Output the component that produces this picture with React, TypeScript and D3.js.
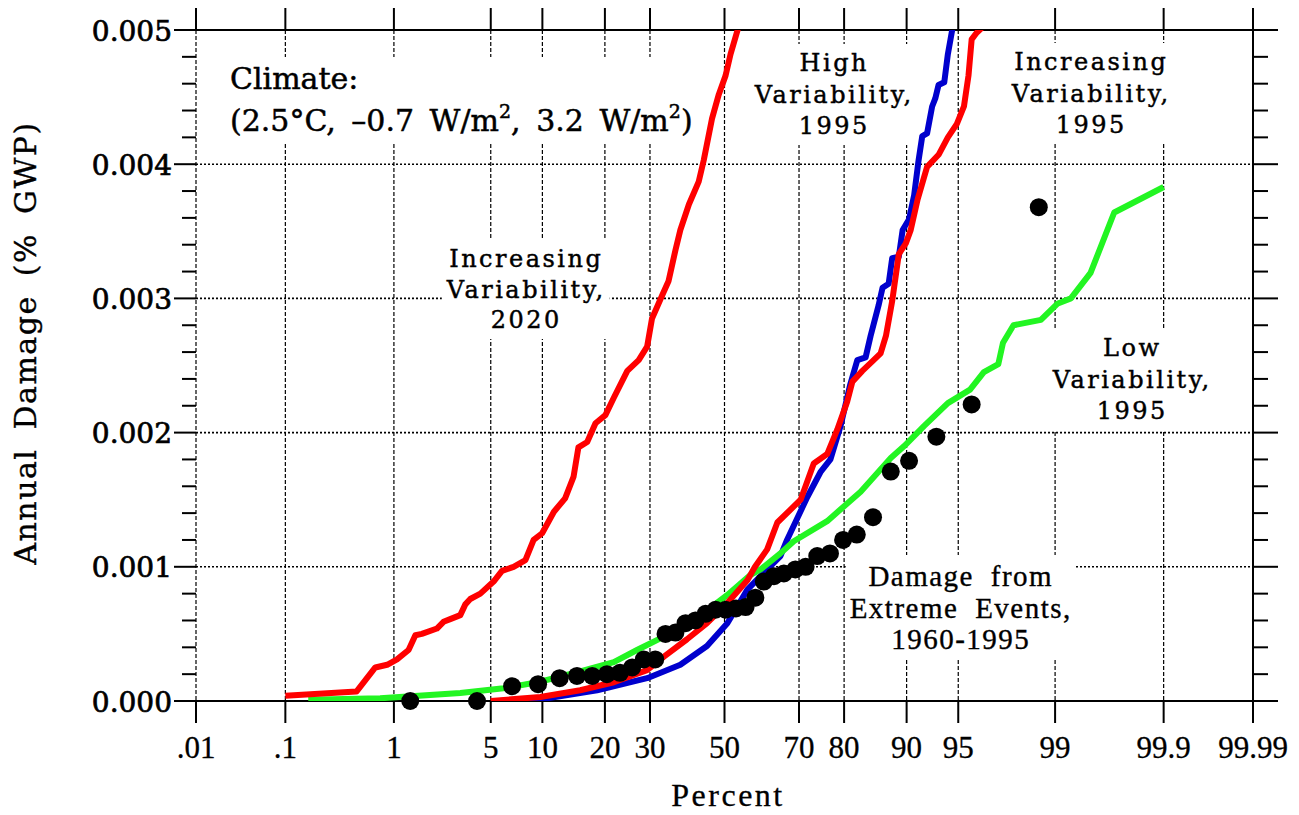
import React, { useEffect, useRef } from "react";
import * as d3 from "d3";

// ---------- data ----------
const xTickPct = [0.01, 0.1, 1, 5, 10, 20, 30, 50, 70, 80, 90, 95, 99, 99.9, 99.99];
const xTickLabels = [".01", ".1", "1", "5", "10", "20", "30", "50", "70", "80", "90", "95", "99", "99.9", "99.99"];
const yTicks = [0, 0.001, 0.002, 0.003, 0.004, 0.005];
const yTickLabels = ["0.000", "0.001", "0.002", "0.003", "0.004", "0.005"];
const yMinorTicks = [0.0002, 0.0004, 0.0006, 0.0008, 0.0012, 0.0014, 0.0016, 0.0018, 0.0022, 0.0024, 0.0026, 0.0028, 0.0032, 0.0034, 0.0036, 0.0038, 0.0042, 0.0044, 0.0046, 0.0048];

// Increasing variability, 2020 (red, left)
const red2020Pct = [0.1, 0.48, 0.70, 0.88, 1.06, 1.31, 1.48, 1.66, 2.15, 2.40, 2.68, 3.15, 3.41, 3.68, 4.29, 5.21, 5.87, 6.89, 8.06, 8.96, 9.97, 11.5, 13.1, 14.4, 15.2, 16.7, 18.2, 20.1, 21.8, 24.7, 27.3, 29.3, 30.5, 33.0, 34.7, 36.5, 37.8, 40.1, 42.8, 44.2, 46.5, 48.4, 50.3, 51.7, 54.0];
const red2020Val = [0.00004, 0.00007, 0.00025, 0.00027, 0.00031, 0.00038, 0.00049, 0.0005, 0.00054, 0.00059, 0.00061, 0.00064, 0.00072, 0.00076, 0.0008, 0.00089, 0.00097, 0.001, 0.00105, 0.0012, 0.00125, 0.00141, 0.00151, 0.00167, 0.00189, 0.00193, 0.00207, 0.00213, 0.00226, 0.00246, 0.00254, 0.00264, 0.00285, 0.00302, 0.00313, 0.00336, 0.00351, 0.0037, 0.00387, 0.00403, 0.00434, 0.00452, 0.00466, 0.00482, 0.00503];

// High variability, 1995 (blue)
const bluePct = [5.7, 10.6, 18.5, 29.3, 37.8, 45.1, 50.8, 56.4, 60.0, 65.3, 67.0, 72.0, 75.1, 77.2, 79.3, 81.2, 82.5, 83.96, 84.8, 86.1, 86.7, 87.6, 88.1, 89.0, 89.5, 90.3, 90.9, 91.4, 91.8, 92.3, 92.8, 93.1, 93.4, 93.9, 94.2, 94.6];
const blueVal = [0, 0.00002, 0.00008, 0.00017, 0.00027, 0.00041, 0.00058, 0.00083, 0.00093, 0.00108, 0.0012, 0.00152, 0.00171, 0.0018, 0.00205, 0.00236, 0.00254, 0.00256, 0.00272, 0.00295, 0.00308, 0.00311, 0.0033, 0.00331, 0.00351, 0.00359, 0.00377, 0.00403, 0.00421, 0.00423, 0.00443, 0.00449, 0.00459, 0.00461, 0.00482, 0.00503];

// Increasing variability, 1995 (red, right)
const red1995Pct = [5.0, 9.75, 15.5, 21.8, 29.3, 33.5, 39.6, 45.1, 50.8, 56.4, 58.5, 61.8, 64.5, 70.4, 73.5, 76.5, 78.6, 80.6, 81.6, 83.4, 85.3, 86.4, 87.2, 88.1, 89.0, 89.9, 90.5, 91.3, 92.3, 93.4, 94.2, 94.9, 95.4, 95.7, 95.9, 96.2, 96.6];
const red1995Val = [0, 0.00003, 0.00008, 0.00014, 0.00023, 0.00033, 0.00046, 0.00058, 0.00073, 0.0009, 0.001, 0.00113, 0.00133, 0.0015, 0.00177, 0.00184, 0.00202, 0.00223, 0.00238, 0.00246, 0.00254, 0.00259, 0.00272, 0.00298, 0.00333, 0.00341, 0.00351, 0.00374, 0.00398, 0.00407, 0.0042, 0.0043, 0.00443, 0.00466, 0.00493, 0.00498, 0.00503];

// Low variability, 1995 (green)
const greenPct = [0.17, 0.77, 3.15, 6.0, 9.75, 15.5, 21.8, 26.9, 33.5, 42.4, 50.8, 57.3, 60.0, 65.3, 68.7, 76.5, 83.1, 87.9, 89.7, 92.0, 94.2, 95.8, 96.6, 97.3, 97.5, 97.9, 98.7, 99.04, 99.26, 99.5, 99.695, 99.9];
const greenVal = [0.00001, 0.00002, 0.00006, 0.000095, 0.000144, 0.00022, 0.00029, 0.00038, 0.00048, 0.00062, 0.00079, 0.00094, 0.00098, 0.0011, 0.00119, 0.00134, 0.00156, 0.00181, 0.0019, 0.00205, 0.00222, 0.00232, 0.00245, 0.00251, 0.00267, 0.0028, 0.00284, 0.00296, 0.003, 0.00319, 0.00364, 0.00383];

// Damage from extreme events, 1960-1995 (black dots)
const dotPct = [1.35, 4.08, 6.75, 9.48, 12.3, 14.96, 17.6, 20.4, 23.1, 25.8, 28.5, 31.3, 33.9, 36.5, 39.2, 41.9, 44.7, 47.5, 50.3, 53.2, 55.9, 58.6, 60.9, 63.6, 66.2, 69.1, 71.6, 74.3, 77.1, 79.8, 82.4, 85.2, 87.9, 90.3, 93.2, 95.9, 98.65];
const dotVal = [0, 0, 0.00011, 0.000125, 0.00017, 0.000187, 0.000187, 0.0002, 0.00021, 0.00025, 0.00031, 0.00031, 0.0005, 0.00051, 0.00058, 0.0006, 0.00065, 0.00068, 0.00068, 0.00069, 0.0007, 0.00077, 0.00089, 0.00093, 0.00095, 0.00098, 0.001, 0.00108, 0.0011, 0.0012, 0.00124, 0.00137, 0.00171, 0.00179, 0.00197, 0.00221, 0.00368];

// ---------- helpers ----------
function probit(p: number): number {
  const a = [-3.969683028665376e1, 2.209460984245205e2, -2.759285104469687e2, 1.38357751867269e2, -3.066479806614716e1, 2.506628277459239];
  const b = [-5.447609879822406e1, 1.615858368580409e2, -1.556989798598866e2, 6.680131188771972e1, -1.328068155288572e1];
  const c = [-7.784894002430293e-3, -3.223964580411365e-1, -2.400758277161838, -2.549732539343734, 4.374664141464968, 2.938163982698783];
  const d = [7.784695709041462e-3, 3.224671290700398e-1, 2.445134137142996, 3.754408661907416];
  const pl = 0.02425;
  let q: number, r: number;
  if (p < pl) {
    q = Math.sqrt(-2 * Math.log(p));
    return (((((c[0] * q + c[1]) * q + c[2]) * q + c[3]) * q + c[4]) * q + c[5]) / ((((d[0] * q + d[1]) * q + d[2]) * q + d[3]) * q + 1);
  }
  if (p <= 1 - pl) {
    q = p - 0.5;
    r = q * q;
    return ((((((a[0] * r + a[1]) * r + a[2]) * r + a[3]) * r + a[4]) * r + a[5]) * q) / (((((b[0] * r + b[1]) * r + b[2]) * r + b[3]) * r + b[4]) * r + 1);
  }
  q = Math.sqrt(-2 * Math.log(1 - p));
  return -(((((c[0] * q + c[1]) * q + c[2]) * q + c[3]) * q + c[4]) * q + c[5]) / ((((d[0] * q + d[1]) * q + d[2]) * q + d[3]) * q + 1);
}

const FONT_A = "'DejaVu Serif', serif";
const FONT_B = "'Liberation Serif', 'Times New Roman', serif";

export default function App() {
  const ref = useRef<SVGSVGElement>(null);

  useEffect(() => {
    const svg = d3.select(ref.current);
    svg.selectAll("*").remove();

    const L = 196, R = 1253, T = 30, B = 701;
    const zx = d3.scaleLinear().domain([probit(0.0001), probit(0.9999)]).range([L, R]);
    const xp = (pct: number) => zx(probit(pct / 100));
    const y = d3.scaleLinear().domain([0, 0.005]).range([B, T]);

    svg.append("defs").append("clipPath").attr("id", "plotclip")
      .append("rect").attr("x", L).attr("y", T).attr("width", R - L).attr("height", B - T);

    // grid lines
    const grid = svg.append("g");
    grid.selectAll("line.vg").data(xTickPct.slice(0, -1)).enter().append("line")
      .attr("x1", (d) => xp(d)).attr("x2", (d) => xp(d)).attr("y1", T).attr("y2", B)
      .attr("stroke", "#000").attr("stroke-width", 1.2).attr("stroke-dasharray", "4,2");
    grid.selectAll("line.hg").data(yTicks.slice(1, -1)).enter().append("line")
      .attr("x1", L).attr("x2", R).attr("y1", (d) => y(d)).attr("y2", (d) => y(d))
      .attr("stroke", "#000").attr("stroke-width", 1.6).attr("stroke-dasharray", "2,2");

    // frame
    const frame = svg.append("g").attr("stroke", "#000").attr("stroke-width", 2);
    frame.append("line").attr("x1", 174).attr("x2", 1278).attr("y1", T).attr("y2", T);
    frame.append("line").attr("x1", 174).attr("x2", 1278).attr("y1", B).attr("y2", B);
    frame.append("line").attr("x1", R).attr("x2", R).attr("y1", 8).attr("y2", 723);
    frame.selectAll("line.tt").data(xTickPct).enter().append("line")
      .attr("x1", (d) => xp(d)).attr("x2", (d) => xp(d)).attr("y1", 8).attr("y2", T);
    frame.selectAll("line.bt").data(xTickPct).enter().append("line")
      .attr("x1", (d) => xp(d)).attr("x2", (d) => xp(d)).attr("y1", B).attr("y2", 723);
    frame.selectAll("line.lt").data(yTicks).enter().append("line")
      .attr("x1", 174).attr("x2", L).attr("y1", (d) => y(d)).attr("y2", (d) => y(d));
    frame.selectAll("line.lm").data(yMinorTicks).enter().append("line")
      .attr("x1", 182).attr("x2", L).attr("y1", (d) => y(d)).attr("y2", (d) => y(d));
    frame.selectAll("line.rt").data(yTicks).enter().append("line")
      .attr("x1", R).attr("x2", 1278).attr("y1", (d) => y(d)).attr("y2", (d) => y(d));
    frame.selectAll("line.rm").data(yMinorTicks).enter().append("line")
      .attr("x1", R).attr("x2", 1268).attr("y1", (d) => y(d)).attr("y2", (d) => y(d));

    // tick labels
    svg.append("g").selectAll("text").data(yTicks).enter().append("text")
      .attr("x", 172).attr("y", (d) => y(d) + 10.5)
      .attr("text-anchor", "end").attr("font-family", FONT_A).attr("font-size", 28)
      .attr("stroke", "#000").attr("stroke-width", 0.7)
      .text((d, i) => yTickLabels[i]);
    svg.append("g").selectAll("text").data(xTickPct).enter().append("text")
      .attr("x", (d) => xp(d)).attr("y", 758)
      .attr("text-anchor", "middle").attr("font-family", FONT_B).attr("font-size", 31)
      .attr("stroke", "#000").attr("stroke-width", 0.3)
      .text((d, i) => xTickLabels[i]);

    // axis titles
    svg.append("text")
      .attr("transform", "translate(36,343) rotate(-90)")
      .attr("text-anchor", "middle").attr("font-family", FONT_A).attr("font-size", 30)
      .attr("letter-spacing", 1.5).attr("word-spacing", 8)
      .attr("stroke", "#000").attr("stroke-width", 0.4)
      .text("Annual Damage (% GWP)");
    svg.append("text")
      .attr("x", 728).attr("y", 806)
      .attr("text-anchor", "middle").attr("font-family", FONT_B).attr("font-size", 32)
      .attr("letter-spacing", 2.5)
      .attr("stroke", "#000").attr("stroke-width", 0.3)
      .text("Percent");

    // labels with white boxes
    const labels = svg.append("g");
    const addBox = (node: SVGGraphicsElement, px: number, py: number) => {
      const bb = node.getBBox();
      labels.insert("rect", ":first-child")
        .attr("x", bb.x - px).attr("y", bb.y - py)
        .attr("width", bb.width + 2 * px).attr("height", bb.height + 2 * py)
        .attr("fill", "#fff");
    };

    // Climate block
    const clim = labels.append("g").attr("stroke", "#000").attr("stroke-width", 0.5);
    clim.append("text").attr("x", 230).attr("y", 89)
      .attr("font-family", FONT_A).attr("font-size", 30).text("Climate:");
    const t2 = clim.append("text").attr("x", 230).attr("y", 131)
      .attr("font-family", FONT_A).attr("font-size", 30).attr("word-spacing", 6);
    t2.append("tspan").text("(2.5°C, –0.7 W/m");
    t2.append("tspan").attr("dy", -13).attr("font-size", 19).text("2");
    t2.append("tspan").attr("dy", 13).text(", 3.2 W/m");
    t2.append("tspan").attr("dy", -13).attr("font-size", 19).text("2");
    t2.append("tspan").attr("dy", 13).text(")");
    addBox(clim.node() as SVGGraphicsElement, 5, 4);

    const annots = [
      { lines: ["Increasing", "Variability,", "2020"], cx: 525, y0: 267, dy: 30.5, font: FONT_A, size: 24, ls: 2.5, ws: 0, sw: 0.45 },
      { lines: ["High", "Variability,", "1995"], cx: 833, y0: 71, dy: 31.5, font: FONT_A, size: 24, ls: 2.5, ws: 0, sw: 0.45 },
      { lines: ["Increasing", "Variability,", "1995"], cx: 1090, y0: 70, dy: 31.5, font: FONT_A, size: 24, ls: 2.5, ws: 0, sw: 0.45 },
      { lines: ["Low", "Variability,", "1995"], cx: 1131, y0: 356, dy: 31.5, font: FONT_A, size: 24, ls: 2.5, ws: 0, sw: 0.45 },
      { lines: ["Damage from", "Extreme Events,", "1960-1995"], cx: 960, y0: 586, dy: 31.5, font: FONT_B, size: 29, ls: 1.5, ws: 8, sw: 0.35 },
    ];
    annots.forEach((a) => {
      const g = labels.append("g");
      a.lines.forEach((ln, i) => {
        g.append("text").attr("x", a.cx + a.ls / 2).attr("y", a.y0 + i * a.dy)
          .attr("text-anchor", "middle").attr("font-family", a.font).attr("font-size", a.size)
          .attr("letter-spacing", a.ls).attr("word-spacing", a.ws)
          .attr("stroke", "#000").attr("stroke-width", a.sw).text(ln);
      });
      addBox(g.node() as SVGGraphicsElement, 4, 5);
    });

    // curves
    const curves = svg.append("g").attr("clip-path", "url(#plotclip)");
    const line = d3.line<[number, number]>().x((d) => xp(d[0])).y((d) => y(d[1]));
    const series: { pct: number[]; val: number[]; color: string }[] = [
      { pct: bluePct, val: blueVal, color: "#0000cd" },
      { pct: greenPct, val: greenVal, color: "#22f522" },
      { pct: red1995Pct, val: red1995Val, color: "#ff0000" },
      { pct: red2020Pct, val: red2020Val, color: "#ff0000" },
    ];
    series.forEach((s) => {
      const pts = s.pct.map((p, i) => [p, s.val[i]] as [number, number]);
      curves.append("path").attr("d", line(pts) as string)
        .attr("fill", "none").attr("stroke", s.color).attr("stroke-width", 6)
        .attr("stroke-linejoin", "round");
    });

    // dots
    svg.append("g").selectAll("circle").data(dotPct).enter().append("circle")
      .attr("cx", (d) => xp(d)).attr("cy", (d, i) => y(dotVal[i])).attr("r", 9)
      .attr("fill", "#000");
  }, []);

  return (
    <svg
      ref={ref}
      width={1299}
      height={815}
      style={{ position: "absolute", left: 0, top: 0, background: "#fff" }}
    />
  );
}
